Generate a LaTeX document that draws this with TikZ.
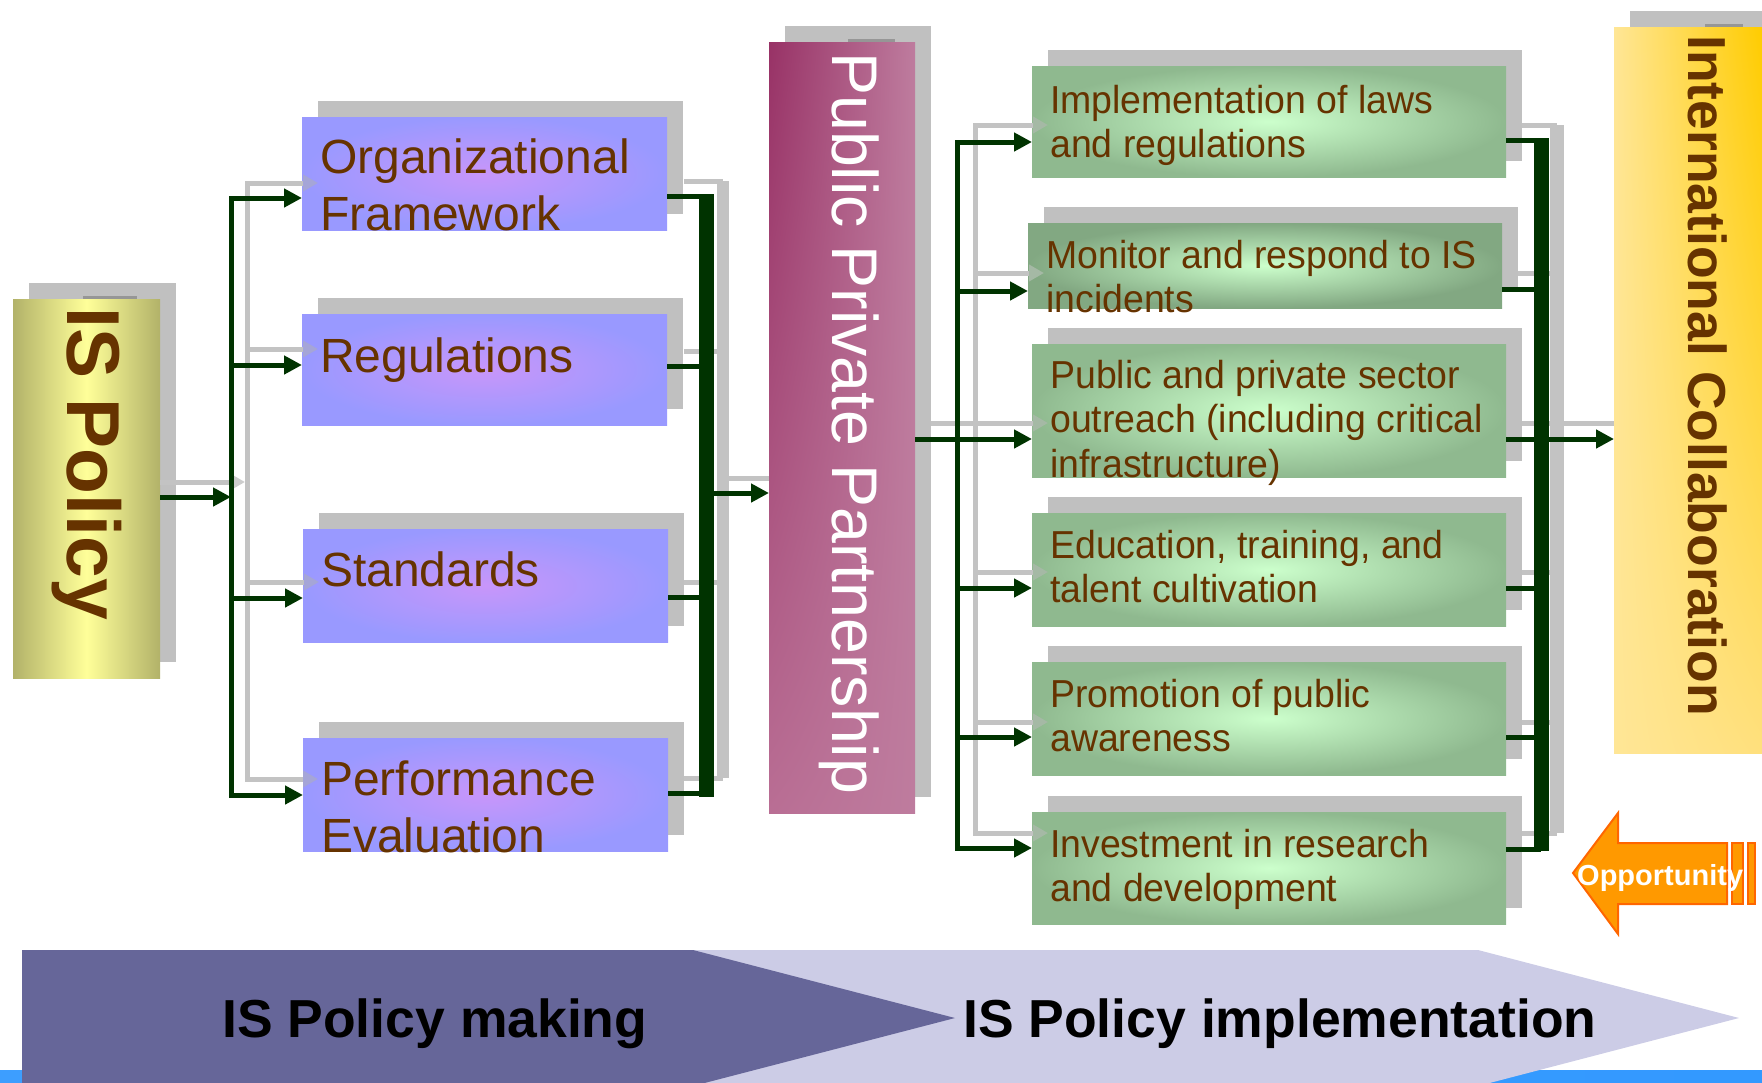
\documentclass[tikz,border=0pt]{standalone}
\usepackage{fontspec}
\setmainfont{Liberation Sans}
\newfontfamily\narrowsans[FakeStretch=0.96]{Liberation Sans}
\usetikzlibrary{arrows.meta,shadings}
\pgfdeclarelayer{bg}
\pgfsetlayers{bg,main}
\definecolor{dkgreen}{RGB}{0,51,0}
\definecolor{brownt}{RGB}{102,51,0}
\definecolor{shadowgray}{RGB}{192,192,192}
\definecolor{tabgray}{RGB}{150,150,150}
\definecolor{ghostgray}{RGB}{195,195,195}
\definecolor{gtipblue}{RGB}{165,165,215}
\definecolor{gtipgreen}{RGB}{165,185,165}
\definecolor{gtipwhite}{RGB}{205,205,205}
\definecolor{blueout}{RGB}{153,153,255}
\definecolor{bluein}{RGB}{200,150,250}
\definecolor{greenout}{RGB}{143,185,143}
\definecolor{greenout2}{RGB}{130,168,130}
\definecolor{greenin}{RGB}{204,255,204}
\definecolor{olive1}{RGB}{178,178,105}
\definecolor{paleyel}{RGB}{255,255,153}
\definecolor{pppA}{RGB}{152,50,102}
\definecolor{pppB}{RGB}{190,124,158}
\definecolor{pppC}{RGB}{185,110,148}
\definecolor{intlA}{RGB}{255,230,150}
\definecolor{intlB}{RGB}{255,204,0}
\definecolor{intlC}{RGB}{255,224,125}
\definecolor{chevdark}{RGB}{102,102,153}
\definecolor{chevlight}{RGB}{204,204,230}
\definecolor{oppfill}{RGB}{255,153,0}
\definecolor{oppdraw}{RGB}{255,102,0}
\definecolor{stripL}{RGB}{61,158,255}
\definecolor{stripM}{RGB}{140,185,255}
\definecolor{stripR}{RGB}{51,153,255}
\tikzset{
  dtip/.tip={Triangle[length=18pt,width=18pt]},
  gtB/.tip={Triangle[length=15pt,width=16pt,color=gtipblue]},
  gtG/.tip={Triangle[length=15pt,width=16pt,color=gtipgreen]},
  gtW/.tip={Triangle[length=15pt,width=16pt,color=gtipwhite]},
}
\begin{document}
\begin{tikzpicture}[x=1pt,y=-1pt,
  box/.style={inner sep=0pt, outer sep=0pt, anchor=north west},
  bluebox/.style={box, minimum width=365pt, inner color=bluein, outer color=blueout},
  greenbox/.style={box, minimum width=474pt, inner color=greenin, outer color=greenout},
  conn/.style={draw=dkgreen, line width=5pt},
  ghost/.style={draw=ghostgray, line width=5pt},
  bluetext/.style={anchor=base west, inner sep=0pt, text=brownt, font=\fontsize{48pt}{57pt}\selectfont},
  greentext/.style={anchor=base west, inner sep=0pt, text=brownt, font=\narrowsans\fontsize{39pt}{44.7pt}\selectfont},
  vtext/.style={anchor=base west, inner sep=0pt, rotate=-90},
  phase/.style={anchor=base west, inner sep=0pt, text=black, font=\bfseries\fontsize{53.5pt}{60pt}\selectfont}
]
\useasboundingbox (0,0) rectangle (1762,1082);

% ---- bottom phase chevrons ----
\shade[left color=stripL, middle color=stripM, right color=stripR] (0,1070) rectangle (1762,1082);
\fill[chevlight] (693,950) -- (1478,950) -- (1739,1018) -- (1478,1086) -- (693,1086) -- cycle;
\fill[chevdark] (22,950) -- (693,950) -- (955,1018) -- (693,1086) -- (22,1086) -- cycle;
\node[phase] (phase1) at (222,1037) {IS Policy making};
\node[phase] (phase2) at (963,1037) {IS Policy implementation};

% ---- boxes ----
\node[box, minimum width=147pt, minimum height=379pt, left color=olive1, right color=olive1, middle color=paleyel] (policy) at (13,299) {};

\node[bluebox, minimum height=113pt] (org) at (302,117) {};
\node[bluebox, minimum height=111pt] (reg) at (302,314) {};
\node[bluebox, minimum height=113pt] (std) at (303,529) {};
\node[bluebox, minimum height=113pt] (perf) at (303,738) {};

\node[box, minimum width=146pt, minimum height=771pt, upper left=pppA, upper right=pppB, lower left=pppC, lower right=pppB] (ppp) at (769,42) {};

\node[greenbox, minimum height=111pt] (g1) at (1032,66) {};
\node[greenbox, minimum height=85pt, outer color=greenout2] (g2) at (1028,223) {};
\node[greenbox, minimum height=133pt] (g3) at (1032,344) {};
\node[greenbox, minimum height=113pt] (g4) at (1032,513) {};
\node[greenbox, minimum height=113pt] (g5) at (1032,662) {};
\node[greenbox, minimum height=112pt] (g6) at (1032,812) {};

\node[box, minimum width=148pt, minimum height=726pt, upper left=intlA, upper right=intlB, lower left=intlA, lower right=intlC] (intl) at (1614,27) {};

% ---- shadows ----
\begin{pgfonlayer}{bg}
\foreach \n in {policy,org,reg,std,perf,ppp,g1,g2,g3,g4,g5,g6,intl}
  \fill[shadowgray] ([shift={(16,-16)}]\n.north west) rectangle ([shift={(16,-16)}]\n.south east);
\end{pgfonlayer}
\fill[tabgray] (83,296) rectangle (137,299);
\fill[tabgray] (848,39) rectangle (895,42);
\fill[tabgray] (1705,24) rectangle (1743,27);

% ---- ghost (shadow) connectors ----
\draw[ghost, -gtW] (160,482) -- (245,482);
\draw[ghost, gtB-gtB] (318,183) -- (247,183) -- (247,779) -- (318,779);
\draw[ghost, -gtB] (247,349) -- (318,349);
\draw[ghost, -gtB] (247,582) -- (319,582);
\draw[ghost] (684,181) -- (723,181);
\draw[ghost] (684,351) -- (723,351);
\draw[ghost] (684,582) -- (723,582);
\draw[ghost] (684,778) -- (723,778);
\draw[ghost, line width=12pt] (723,181) -- (723,778);
\draw[ghost] (723,478) -- (769,478);
\draw[ghost, gtG-gtG] (1048,125) -- (975,125) -- (975,833) -- (1048,833);
\draw[ghost, -gtG] (975,273) -- (1044,273);
\draw[ghost, -gtG] (931,423) -- (1048,423);
\draw[ghost, -gtG] (975,572) -- (1048,572);
\draw[ghost, -gtG] (975,722) -- (1048,722);
\foreach \yy in {125,423,572,722,833} \draw[ghost] (1522,\yy) -- (1557,\yy);
\draw[ghost] (1518,273) -- (1557,273);
\draw[ghost, line width=14pt] (1557,125) -- (1557,833);
\draw[ghost] (1557,423) -- (1614,423);

% ---- left fork (policy making) ----
\coordinate (lbA) at (231,198);
\coordinate (lbB) at (231,365);
\coordinate (lbIn) at (231,497);
\coordinate (lbC) at (231,598);
\coordinate (lbD) at (231,795);
\draw[conn, dtip-dtip] (org.west |- lbA) -- (lbA) -- (lbD) -- (perf.west |- lbD);
\draw[conn, -dtip] (lbB) -- (reg.west |- lbB);
\draw[conn, -dtip] (lbC) -- (std.west |- lbC);
\draw[conn, -dtip] (policy.east |- lbIn) -- (lbIn);

\coordinate (rbT) at (706.5,194);
\coordinate (rbBt) at (706.5,797);
\coordinate (rbA) at (706,196);
\coordinate (rbB) at (706,366);
\coordinate (rbC) at (706,597);
\coordinate (rbD) at (706,793);
\coordinate (rbOut) at (713,493);
\draw[dkgreen, line width=15pt] (rbT) -- (rbBt);
\draw[conn] (org.east |- rbA) -- (rbA);
\draw[conn] (reg.east |- rbB) -- (rbB);
\draw[conn] (std.east |- rbC) -- (rbC);
\draw[conn] (perf.east |- rbD) -- (rbD);
\draw[conn, -dtip] (rbOut) -- (ppp.west |- rbOut);

% ---- right fork (implementation) ----
\coordinate (glA) at (957,142);
\coordinate (glB) at (957,291);
\coordinate (glC) at (957,439);
\coordinate (glD) at (957,588);
\coordinate (glE) at (957,737);
\coordinate (glF) at (957,848);
\draw[conn, dtip-dtip] (g1.west |- glA) -- (glA) -- (glF) -- (g6.west |- glF);
\draw[conn, -dtip] (glB) -- (g2.west |- glB);
\draw[conn, -dtip] (ppp.east |- glC) -- (g3.west |- glC);
\draw[conn, -dtip] (glD) -- (g4.west |- glD);
\draw[conn, -dtip] (glE) -- (g5.west |- glE);

\coordinate (grT) at (1541.5,138);
\coordinate (grBt) at (1541.5,851);
\coordinate (grA) at (1541,140);
\coordinate (grB) at (1541,289);
\coordinate (grC) at (1541,439);
\coordinate (grD) at (1541,588);
\coordinate (grE) at (1541,737);
\coordinate (grF) at (1541,849);
\coordinate (grOut) at (1548,439);
\draw[dkgreen, line width=15pt] (grT) -- (grBt);
\draw[conn] (g1.east |- grA) -- (grA);
\draw[conn] (g2.east |- grB) -- (grB);
\draw[conn] (g3.east |- grC) -- (grC);
\draw[conn] (g4.east |- grD) -- (grD);
\draw[conn] (g5.east |- grE) -- (grE);
\draw[conn] (g6.east |- grF) -- (grF);
\draw[conn, -dtip] (grOut) -- (intl.west |- grOut);

% ---- texts ----
\node[vtext, text=brownt, font=\bfseries\fontsize{75pt}{75pt}\selectfont] (policyt) at (67,307) {IS Policy};
\node[vtext, text=white, font=\fontsize{64.5pt}{65pt}\selectfont] (pppt) at (832,52) {Public Private Partnership};
\node[vtext, text=brownt, font=\bfseries\fontsize{53.5pt}{54pt}\selectfont] (intlt) at (1688,35) {International Collaboration};

\node[bluetext] (orgt) at (320,173) {\parbox[t]{345pt}{\raggedright Organizational\\Framework}};
\node[bluetext] (regt) at (320,372) {\parbox[t]{345pt}{\raggedright Regulations}};
\node[bluetext] (stdt) at (321,586) {\parbox[t]{345pt}{\raggedright Standards}};
\node[bluetext] (perft) at (321,795) {\parbox[t]{345pt}{\raggedright Performance\\Evaluation}};

\node[greentext] (g1t) at (1050,113) {\parbox[t]{450pt}{\raggedright Implementation of laws\\and regulations}};
\node[greentext] (g2t) at (1046,268) {\parbox[t]{450pt}{\raggedright Monitor and respond to IS\\incidents}};
\node[greentext] (g3t) at (1050,388) {\parbox[t]{450pt}{\raggedright Public and private sector\\outreach (including critical\\infrastructure)}};
\node[greentext] (g4t) at (1050,558) {\parbox[t]{450pt}{\raggedright Education, training, and\\talent cultivation}};
\node[greentext] (g5t) at (1050,707) {\parbox[t]{450pt}{\raggedright Promotion of public\\awareness}};
\node[greentext] (g6t) at (1050,857) {\parbox[t]{450pt}{\raggedright Investment in research\\and development}};

% ---- opportunity arrow ----
\filldraw[fill=oppfill, draw=oppdraw, line width=2pt] (1573,873) -- (1618,813) -- (1618,843) -- (1727,843) -- (1727,904) -- (1618,904) -- (1618,934) -- cycle;
\filldraw[fill=oppfill, draw=oppdraw, line width=2pt] (1732,843) rectangle (1743,904);
\filldraw[fill=oppfill, draw=oppdraw, line width=2pt] (1748,843) rectangle (1755,904);
\node[anchor=base west, inner sep=0pt, text=white, font=\bfseries\fontsize{29pt}{30pt}\selectfont] (oppt) at (1577,885) {Opportunity};
\end{tikzpicture}
\end{document}
